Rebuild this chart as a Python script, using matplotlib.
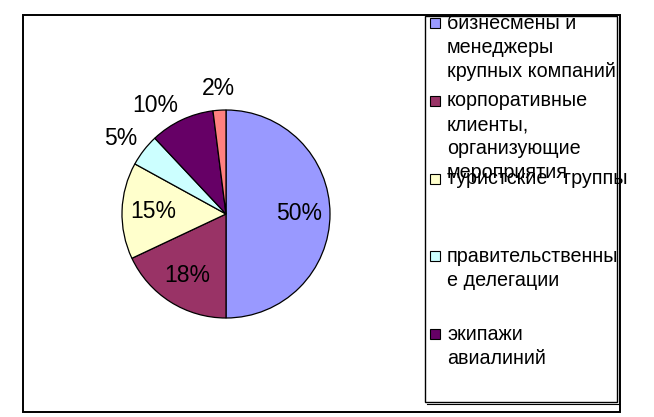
import matplotlib
matplotlib.use("Agg")
import matplotlib.pyplot as plt
from matplotlib.patches import Rectangle
import numpy as np

plt.rcParams['font.family'] = ['Liberation Sans', 'DejaVu Sans']

categories = [
    "бизнесмены и\nменеджеры\nкрупных компаний",
    "корпоративные\nклиенты,\nорганизующие\nмероприятия",
    "туристские   группы",
    "правительственны\nе делегации",
    "экипажи\nавиалиний",
    "прочие",
]
values = [50, 18, 15, 5, 10, 2]
colors = ["#9999FF", "#993366", "#FFFFCC", "#CCFFFF", "#660066", "#FF8080"]

W, H = 654, 417
fig = plt.figure(figsize=(W / 100, H / 100), dpi=100)
fig.patch.set_facecolor("white")

# overlay in pixel coordinates
ov = fig.add_axes([0, 0, 1, 1])
ov.set_xlim(0, W)
ov.set_ylim(H, 0)
ov.axis("off")

# outer chart border
ov.add_patch(Rectangle((23, 15), 597, 397, fill=False, ec="black", lw=1.4))

# pie
cx, cy, r = 226, 214, 104
pax = fig.add_axes([(cx - r) / W, (H - cy - r) / H, 2 * r / W, 2 * r / H])
wedges, _ = pax.pie(values, colors=colors, startangle=90, counterclock=False,
                    radius=1, wedgeprops=dict(edgecolor="black", linewidth=0.9))
pax.set_xlim(-1, 1)
pax.set_ylim(-1, 1)
pax.set_aspect("equal")
pax.axis("off")
total = float(sum(values))
for w, v in zip(wedges, values):
    mid = np.deg2rad((w.theta1 + w.theta2) / 2)
    c, s = np.cos(mid), np.sin(mid)
    lab = f"{v / total * 100:.0f}%"
    if v >= 15:
        pax.text(0.70 * c, 0.70 * s, lab, ha="center", va="center",
                 fontsize=16.5, color="black")
    else:
        ha = "right" if c < -0.2 else ("left" if c > 0.2 else "center")
        va = "baseline" if s > 0.2 else ("top" if s < -0.2 else "center")
        pad = 1.08 if abs(c) > 0.2 else 1.15
        pax.text(pad * c, pad * s, lab, ha=ha, va=va, fontsize=16.5,
                 color="black", clip_on=False)

# legend box
lx0, ly0, lx1, ly1 = 425, 16, 617, 402
ov.add_patch(Rectangle((lx0, ly0), lx1 - lx0, ly1 - ly0, fill=False, ec="black", lw=1.0))
ov.plot([lx0 + 2, lx1 + 2, lx1 + 2], [ly1 + 2, ly1 + 2, ly0 + 2], color="black", lw=0.8)

entry_step = 77.8
line_step = 24
for i, (lab, col) in enumerate(zip(categories, colors)):
    ey = 23 + i * entry_step
    if ey > ly1 - 10:
        continue  # entry falls outside the legend box (cut off in the original)
    ov.add_patch(Rectangle((430, ey - 5), 10, 10, fc=col, ec="black", lw=0.8))
    for j, line in enumerate(lab.split("\n")):
        ov.text(447, ey + j * line_step, line, ha="left", va="center",
                fontsize=14.2, color="black")

fig.savefig("out.png", dpi=100, facecolor="white")
